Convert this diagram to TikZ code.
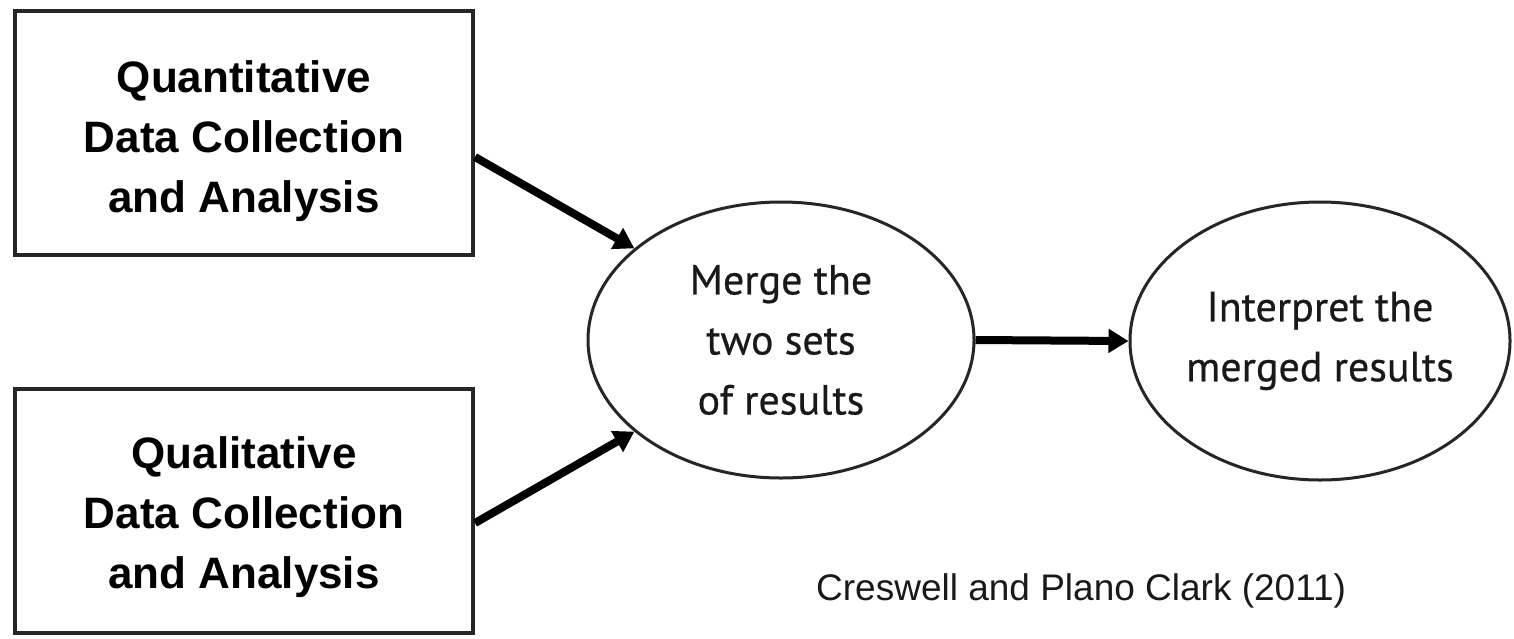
\documentclass[tikz,border=0pt]{standalone}
\usepackage{fontspec}
\setmainfont{Liberation Sans}
\newfontfamily\ptsans[BoldFont={PT Sans}, BoldFeatures={FakeBold=0.5}]{PT Sans}
\usetikzlibrary{shapes.geometric,arrows.meta,calc}
\tikzset{
  boxframe/.style={draw=black!85, line width=4pt, minimum width=458pt, minimum height=244pt, inner sep=0pt},
  boxtext/.style={align=center, text=black, inner sep=0pt, font=\bfseries\fontsize{44}{60}\selectfont},
  oval/.style={ellipse, draw=black!85, line width=3pt, inner sep=0pt, align=center, text=black!90,
    font=\ptsans\bfseries\fontsize{42}{60}\selectfont},
  bigarrow/.style={line width=8pt, draw=black, -{Triangle[length=20pt,width=23pt]}},
  citestyle/.style={inner sep=0pt, anchor=base west, text=black!90, font=\fontsize{37}{44}\selectfont}
}
\begin{document}
\begin{tikzpicture}[x=1pt,y=-1pt]
\fill[white] (0,0) rectangle (1514,638);
\useasboundingbox (0,0) rectangle (1514,638);
% boxes
\node[boxframe] (qbox) at (244,133) {};
\node[boxtext] (qtext) at (244,141) {Quantitative\\Data Collection\\and Analysis};
\node[boxframe] (lbox) at (244,511) {};
\node[boxtext] (ltext) at (244,517) {Qualitative\\Data Collection\\and Analysis};
% ellipses
\node[oval, minimum width=386pt, minimum height=276pt] (merge) at (781,340) {Merge the\\two sets\\of results};
\node[oval, minimum width=380pt, minimum height=278pt] (interp) at (1320,341) {Interpret the\\merged results};
% arrows
\draw[bigarrow] ($(qbox.east)+(0,24)$) -- (merge.148);
\draw[bigarrow] ($(lbox.east)+(0,12)$) -- (merge.212);
\draw[bigarrow] (merge.east) -- (interp.west);
% citation
\node[citestyle] (cite) at (816,600) {Creswell and Plano Clark (2011)};
\end{tikzpicture}
\end{document}
